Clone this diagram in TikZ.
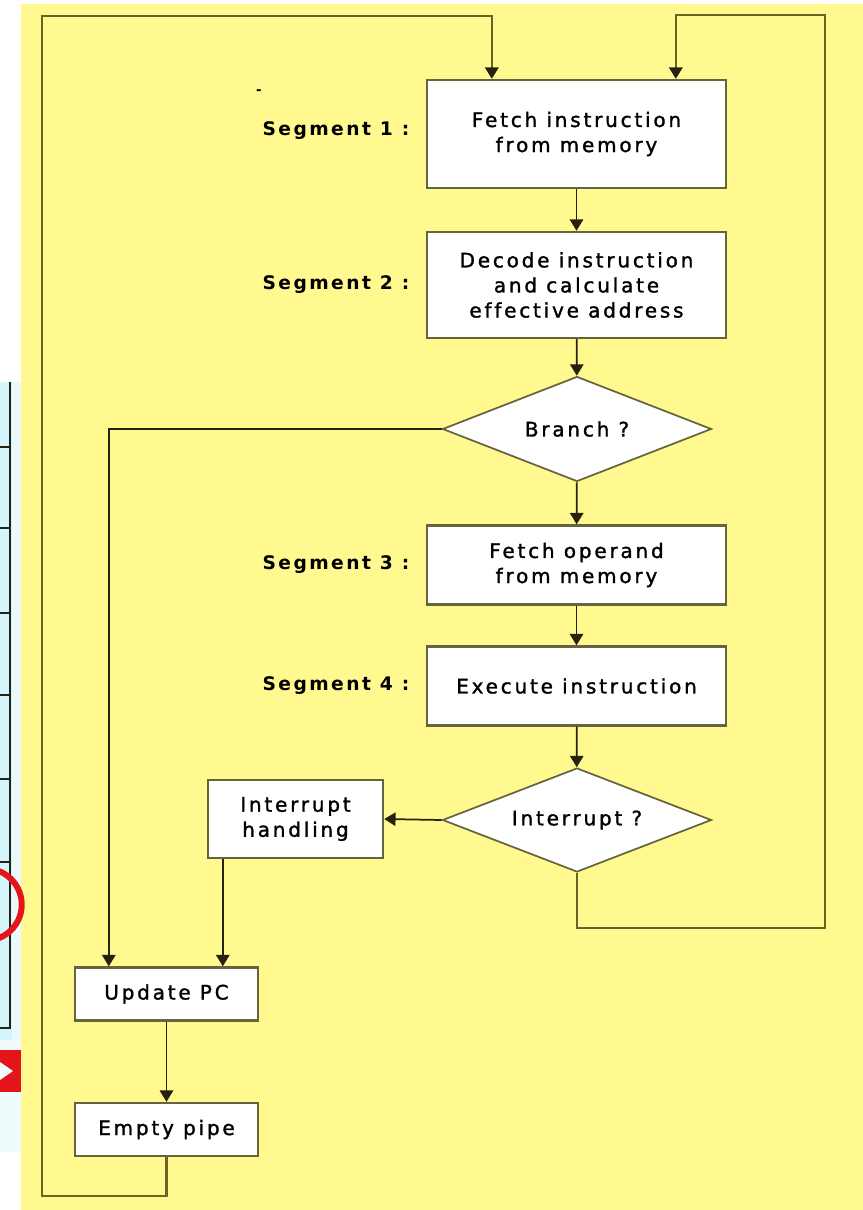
\documentclass[tikz,border=0pt]{standalone}
\usepackage{fontspec}
\setmainfont{DejaVu Sans}[Ligatures=NoCommon]
\usetikzlibrary{shapes.geometric,arrows.meta,calc}
\definecolor{pagebg}{HTML}{FFF98F}
\definecolor{loopline}{HTML}{6A6526}
\definecolor{boxline}{HTML}{66633F}
\definecolor{flowline}{HTML}{25230F}
\definecolor{tablebg}{HTML}{D3F5FB}
\definecolor{markred}{HTML}{E4141B}
\begin{document}
\begin{tikzpicture}[x=0.75pt,y=-0.75pt,
  every node/.style={font=\fontsize{15}{18.8}\selectfont\addfontfeatures{LetterSpace=14,FakeBold=1.4}},
  stagebox/.style={draw=boxline,line width=1.8pt,fill=white,align=center,inner sep=0pt},
  decision/.style={diamond,aspect=2.6,draw=boxline,line width=1.3pt,fill=white,inner sep=0pt,align=center},
  seglabel/.style={anchor=east,font=\fontsize{14}{16}\selectfont\bfseries\addfontfeatures{LetterSpace=13}},
  arr/.style={draw=flowline,line width=1.3pt,-{Triangle[length=8.5pt,width=10pt]}},
  looparr/.style={draw=loopline,line width=1.8pt,-{Triangle[length=8.5pt,width=10pt,color=flowline]}}]
% page area
\useasboundingbox (0,0) rectangle (863,1210);
\fill[white] (0,0) rectangle (863,1210);
\fill[pagebg] (21,4) rectangle (863,1210);
% strip of a neighbouring table on the left edge
\fill[tablebg] (0,382) rectangle (21,1040);
\fill[tablebg!35] (0,1040) rectangle (21,1152);
\fill[white!55!tablebg] (12,382) rectangle (21,1040);
\draw[flowline,line width=1.5pt] (10,382) -- (10,1028) -- (0,1028);
\foreach \yy in {447,528,613,695,779,862}
  \draw[flowline,line width=1.5pt] (0,\yy) -- (10,\yy);
\draw[markred,line width=4.5pt] (-8,940) arc[start angle=80,end angle=-80,radius=36];
\fill[markred] (0,1050) -- (21,1050) -- (21,1092) -- (0,1092) -- cycle;
\fill[white!70!tablebg] (0,1062) -- (13,1071) -- (0,1080) -- cycle;

% stages
\node[stagebox,minimum width=299*0.75pt,minimum height=108*0.75pt] (fetch) at (576.5,134) {Fetch instruction\\from memory};
\node[stagebox,minimum width=299*0.75pt,minimum height=106*0.75pt] (decode) at (576.5,285) {Decode instruction\\and calculate\\effective address};
\node[decision,minimum width=269*0.75pt,minimum height=105*0.75pt] (branch) at (577,429) {Branch ?};
\node[stagebox,minimum width=299*0.75pt,minimum height=79*0.75pt] (operand) at (576.5,565) {Fetch operand\\from memory};
\node[stagebox,minimum width=299*0.75pt,minimum height=79*0.75pt] (exec) at (576.5,686) {Execute instruction};
\node[decision,minimum width=269*0.75pt,minimum height=104*0.75pt] (intr) at (577,820) {Interrupt ?};
\node[stagebox,minimum width=175*0.75pt,minimum height=78*0.75pt] (handle) at (295.5,819) {Interrupt\\handling};
\node[stagebox,minimum width=183*0.75pt,minimum height=53*0.75pt] (updpc) at (166.5,994) {Update PC};
\node[stagebox,minimum width=183*0.75pt,minimum height=53*0.75pt] (empty) at (166.5,1129.5) {Empty pipe};

% segment labels
\node[seglabel] (s1) at (414,131) {Segment 1 :};
\node[seglabel] (s2) at (414,285) {Segment 2 :};
\node[seglabel] (s3) at (414,565) {Segment 3 :};
\node[seglabel] (s4) at (414,686) {Segment 4 :};
\node[font=\fontsize{10}{10}\selectfont\bfseries] (tick) at (259,92) {-};

% main flow
\draw[arr] (fetch) -- (decode);
\draw[arr] (decode) -- (branch);
\draw[arr] (branch) -- (operand);
\draw[arr] (operand) -- (exec);
\draw[arr] (exec) -- (intr);
\draw[arr] (intr.west) -- (handle.east);
\draw[arr] (branch.west) -| ($(updpc.north west)+(35,0)$);
\draw[arr] ($(handle.south west)+(16,0)$) coordinate (hs) -- (hs |- updpc.north);
\draw[arr] (updpc) -- (empty);

% return paths to the fetch stage
\coordinate (lowcorner) at (42,1196);
\coordinate (topleft) at (42,16);
\coordinate (botright) at (825,928);
\coordinate (topright) at (825,15);
\draw[looparr] (empty.south) -- (empty.south |- lowcorner) -- (lowcorner) -- (topleft)
  -| ($(fetch.north west)+(66,0)$);
\draw[looparr] (intr.south) -- (intr.south |- botright) -- (botright) -- (topright)
  -| ($(fetch.north west)+(250,0)$);
\end{tikzpicture}
\end{document}
